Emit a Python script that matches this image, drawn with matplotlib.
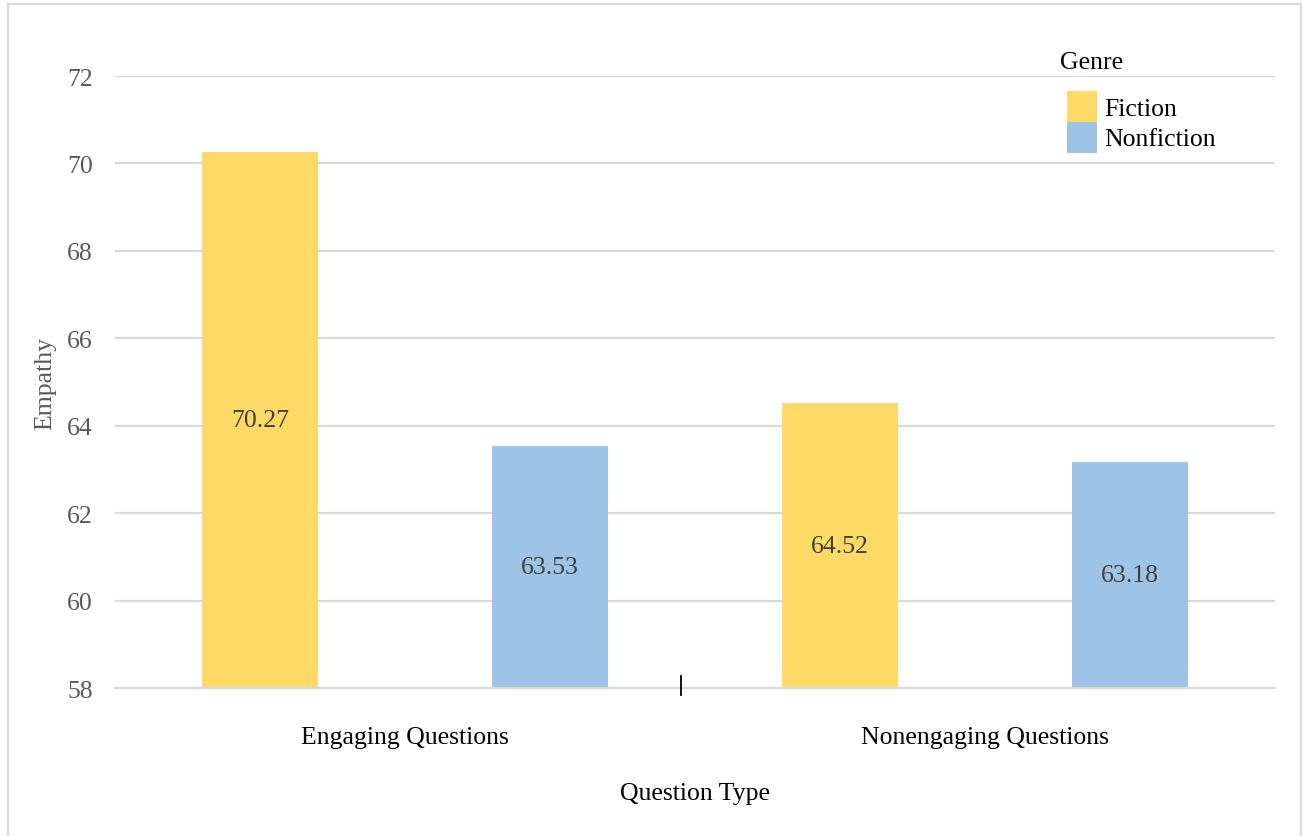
import matplotlib.pyplot as plt
from matplotlib.patches import Rectangle
import numpy as np

plt.rcParams['font.family'] = ['Liberation Serif', 'DejaVu Serif']

# Mean empathy scores by question type and genre
question_types = ['Engaging Questions', 'Nonengaging Questions']
genres = ['Fiction', 'Nonfiction']
fiction = [70.27, 64.52]
nonfiction = [63.53, 63.18]

colors = ['#FFD966', '#9DC3E6']
grid_color = '#D9D9D9'
W, H = 1304, 837

fig = plt.figure(figsize=(W / 100, H / 100), dpi=100)
ax = fig.add_axes([0.0882, 0.1768, 0.8896, 0.7312])

# outer chart border
fig.patches.append(Rectangle((8 / W, -0.1), (1301 - 8) / W, 1.1 - 5 / H,
                             transform=fig.transFigure, fill=False,
                             edgecolor=grid_color, linewidth=1.6))

x = np.arange(len(question_types))
width = 0.2
offset = 0.25
ymin, ymax = 58, 72

for i, (vals, name) in enumerate(zip([fiction, nonfiction], genres)):
    pos = x + (offset if i else -offset)
    ax.bar(pos, vals, width=width, color=colors[i], label=name, zorder=2)
    for p, v in zip(pos, vals):
        ax.text(p, (ymin + v) / 2, f'{v:.2f}', ha='center', va='center',
                fontsize=18.5, color='#404040', zorder=3)

ax.set_xlim(-0.5, 1.5)
ax.set_ylim(ymin, ymax)
ax.set_yticks(np.arange(ymin, ymax + 1, 2))
ax.set_xticks(x)
ax.set_xticklabels(question_types, fontsize=18.5, color='black')
ax.tick_params(axis='x', length=0, pad=27)
ax.tick_params(axis='y', length=0, pad=16, labelsize=18.5, labelcolor='#595959')

ax.grid(axis='y', color=grid_color, linewidth=1.6, zorder=0)
for s in ['top', 'right', 'left']:
    ax.spines[s].set_visible(False)
ax.spines['bottom'].set_color(grid_color)
ax.spines['bottom'].set_linewidth(1.6)

# small divider mark between the two groups
ax.plot([0.475, 0.475], [-0.012, 0.02], color='black', lw=1.3,
        transform=ax.get_xaxis_transform(), clip_on=False, zorder=4)

ax.set_ylabel('Empathy', fontsize=18.5, color='#595959', va='center')
ax.yaxis.set_label_coords(-0.06, 0.5)
ax.set_xlabel('Question Type', fontsize=18.5, color='black', labelpad=24.5)

# legend: title plus stacked colour squares
fig.text(1060 / W, 1 - 63 / H, 'Genre', fontsize=18.5, ha='left', va='center')
box = 31
for i, (name, c) in enumerate(zip(genres, colors)):
    top = 92 + i * box
    fig.patches.append(Rectangle((1067 / W, 1 - (top + box) / H), 30 / W, box / H,
                                 transform=fig.transFigure, facecolor=c,
                                 edgecolor='none'))
    fig.text(1104 / W, 1 - (top + box / 2 + 2) / H, name, fontsize=18.5,
             ha='left', va='center')

fig.savefig('out.png', dpi=100)
